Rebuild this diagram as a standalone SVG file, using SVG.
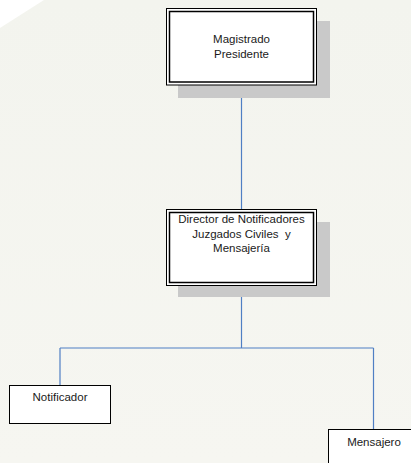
<svg xmlns="http://www.w3.org/2000/svg" width="411" height="463" viewBox="0 0 411 463">
  <defs>
    <linearGradient id="bg" x1="0" y1="0" x2="0" y2="1">
      <stop offset="0" stop-color="#f3f4ee"/>
      <stop offset="1" stop-color="#f6f6f1"/>
    </linearGradient>
    <style>
      .shadow { fill: #c9c9c9; stroke: none; }
      .outer { fill: #ffffff; stroke: #000000; stroke-width: 1; }
      .inner { fill: none; stroke: #000000; stroke-width: 1.5; }
      .plain { fill: #ffffff; stroke: #000000; stroke-width: 1; }
      .lbl { font-family: "Liberation Sans", Arial, sans-serif; font-size: 11.5px; fill: #1a1a1a; text-anchor: middle; }
      .conn { fill: none; stroke: #4f7fc4; stroke-width: 1.2; }
    </style>
  </defs>
  <rect x="0" y="0" width="411" height="463" fill="url(#bg)"/>
  <polygon points="0,0 44,0 0,28" fill="#ffffff"/>

  <g id="connectors">
    <line class="conn" x1="241.5" y1="98" x2="241.5" y2="209"/>
    <line class="conn" x1="241.5" y1="297" x2="241.5" y2="348"/>
    <line class="conn" x1="60" y1="348" x2="373.5" y2="348"/>
    <line class="conn" x1="60" y1="348" x2="60" y2="385"/>
    <line class="conn" x1="373.5" y1="348" x2="373.5" y2="429"/>
  </g>

  <g id="magistrado">
    <rect class="shadow" x="178" y="21" width="152" height="77"/>
    <rect class="outer" x="166.5" y="8.5" width="150" height="76.5"/>
    <rect class="inner" x="169.5" y="11.5" width="144" height="70.5"/>
    <text class="lbl" x="241.5" y="43">Magistrado</text>
    <text class="lbl" x="241.5" y="57.5">Presidente</text>
  </g>

  <g id="director">
    <rect class="shadow" x="178" y="222" width="152" height="75"/>
    <rect class="outer" x="166.5" y="209.5" width="150" height="76"/>
    <rect class="inner" x="169.5" y="212.5" width="144" height="70"/>
    <text class="lbl" x="241.5" y="223">Director de Notificadores</text>
    <text class="lbl" x="241.5" y="237.5" xml:space="preserve">Juzgados Civiles  y</text>
    <text class="lbl" x="241.5" y="251.5">Mensajería</text>
  </g>

  <g id="notificador">
    <rect class="plain" x="9.5" y="385.5" width="101" height="38"/>
    <text class="lbl" x="60" y="401">Notificador</text>
  </g>

  <g id="mensajero">
    <rect class="plain" x="328.5" y="429.5" width="92" height="38"/>
    <text class="lbl" x="374" y="445.5">Mensajero</text>
  </g>
</svg>
